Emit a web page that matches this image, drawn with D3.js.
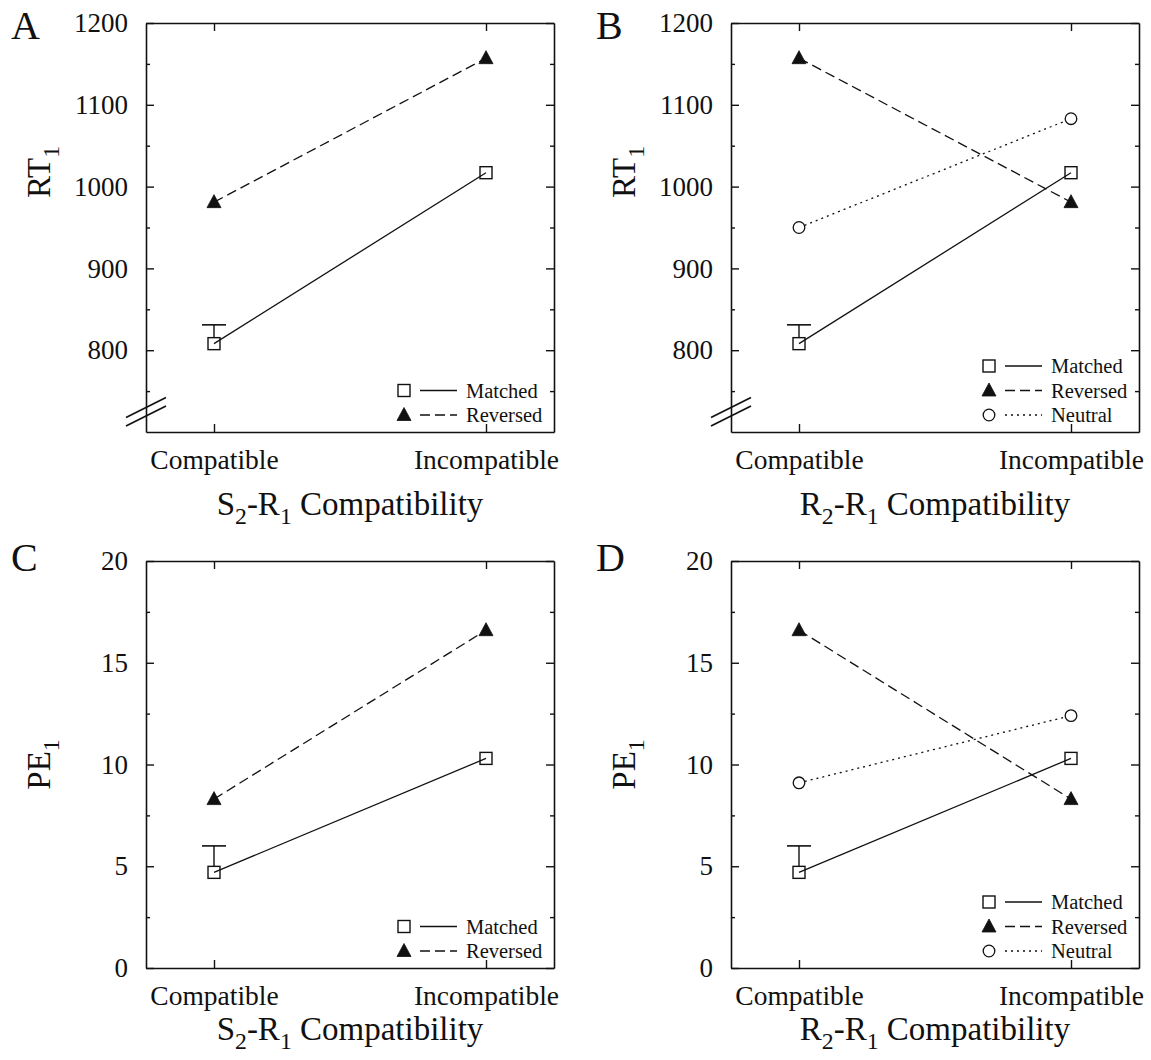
<!DOCTYPE html>
<html><head><meta charset="utf-8">
<script src="https://cdn.jsdelivr.net/npm/d3@7"></script>
<style>
body{margin:0;background:#fff;}
svg{display:block;}
svg text{font-family:"Liberation Serif","Times New Roman",serif !important;}
</style></head>
<body>
<svg id="chart" width="1151" height="1060"></svg>
<script>
// ---------- data ----------
const categories = ["Compatible", "Incompatible"];
const rtMatched = [808, 1017];
const rtReversedA = [981, 1157];
const rtReversedB = [1157, 981];
const rtNeutral = [950, 1083];
const rtMatchedErrUpper = [831, null];
const peMatched = [4.7, 10.3];
const peReversedC = [8.3, 16.6];
const peReversedD = [16.6, 8.3];
const peNeutral = [9.1, 12.4];
const peMatchedErrUpper = [6.0, null];
const rtTicks = [800, 900, 1000, 1100, 1200];
const rtMinorTicks = [750, 850, 950, 1050, 1150];
const peTicks = [0, 5, 10, 15, 20];
const peMinorTicks = [2.5, 7.5, 12.5, 17.5];

const svg = d3.select("#chart");

const panels = [
  {letter:"A", left:146, top:23, w:408, h:409, domain:[700,1200], ticks:rtTicks, minor:rtMinorTicks,
   ytitle:["RT","1"], ytitleY:172, xtitle:["S","2","-R","1"," Compatibility"], brk:true, titleOff:83, letterY:39,
   series:[{name:"Matched", vals:rtMatched, sym:"square", dash:null, err:rtMatchedErrUpper},
           {name:"Reversed", vals:rtReversedA, sym:"triangle", dash:"10,5"}]},
  {letter:"B", left:731, top:23, w:408, h:409, domain:[700,1200], ticks:rtTicks, minor:rtMinorTicks,
   ytitle:["RT","1"], ytitleY:172, xtitle:["R","2","-R","1"," Compatibility"], brk:true, titleOff:83, letterY:39,
   series:[{name:"Matched", vals:rtMatched, sym:"square", dash:null, err:rtMatchedErrUpper},
           {name:"Reversed", vals:rtReversedB, sym:"triangle", dash:"10,5"},
           {name:"Neutral", vals:rtNeutral, sym:"circle", dash:"2,4"}]},
  {letter:"C", left:146, top:561, w:408, h:407, domain:[0,20], ticks:peTicks, minor:peMinorTicks,
   ytitle:["PE","1"], ytitleY:null, xtitle:["S","2","-R","1"," Compatibility"], brk:false, titleOff:72, letterY:571,
   series:[{name:"Matched", vals:peMatched, sym:"square", dash:null, err:peMatchedErrUpper},
           {name:"Reversed", vals:peReversedC, sym:"triangle", dash:"10,5"}]},
  {letter:"D", left:731, top:561, w:408, h:407, domain:[0,20], ticks:peTicks, minor:peMinorTicks,
   ytitle:["PE","1"], ytitleY:null, xtitle:["R","2","-R","1"," Compatibility"], brk:false, titleOff:72, letterY:571,
   series:[{name:"Matched", vals:peMatched, sym:"square", dash:null, err:peMatchedErrUpper},
           {name:"Reversed", vals:peReversedD, sym:"triangle", dash:"10,5"},
           {name:"Neutral", vals:peNeutral, sym:"circle", dash:"2,4"}]}
];

function drawSymbol(g, sym, cx, cy){
  if(sym==="square"){
    g.append("rect").attr("x",cx-6).attr("y",cy-6).attr("width",12).attr("height",12)
      .attr("fill","none").attr("stroke","#111").attr("stroke-width",1.4);
  } else if(sym==="triangle"){
    g.append("path").attr("d",`M${cx},${cy-7.5}L${cx+7},${cy+5.5}L${cx-7},${cy+5.5}Z`)
      .attr("fill","#111").attr("stroke","#111").attr("stroke-width",0.8);
  } else {
    g.append("circle").attr("cx",cx).attr("cy",cy).attr("r",5.8)
      .attr("fill","#fff").attr("stroke","#111").attr("stroke-width",1.3);
  }
}

function subText(sel, parts, size){
  parts.forEach((p,i)=>{
    const isSub = (i%2===1);
    const t = sel.append("tspan").text(p);
    if(isSub){ t.attr("font-size", size*0.72).attr("dy", size*0.28); }
    else if(i>0){ t.attr("dy", -size*0.28); }
  });
}

panels.forEach(p=>{
  const g = svg.append("g").attr("transform",`translate(${p.left},${p.top})`);
  const x = d3.scaleLinear().domain([-0.25,1.25]).range([0,p.w]);
  const y = d3.scaleLinear().domain(p.domain).range([p.h,0]);
  const fmtTick = d3.format("d");

  const axStyle = a => {
    a.selectAll("path.domain").attr("stroke","#111").attr("stroke-width",1.6);
    a.selectAll(".tick line").attr("stroke","#111").attr("stroke-width",1.4);
    a.selectAll("text").attr("fill","#111");
  };
  const gl = g.append("g").call(d3.axisLeft(y).tickValues(p.ticks).tickFormat(fmtTick)
      .tickSizeInner(-8).tickSizeOuter(0).tickPadding(18));
  axStyle(gl); gl.selectAll("text").attr("font-size",27);
  const glm = g.append("g").call(d3.axisLeft(y).tickValues(p.minor).tickFormat("")
      .tickSizeInner(-4).tickSizeOuter(0));
  axStyle(glm); glm.select("path.domain").remove();
  const gr = g.append("g").attr("transform",`translate(${p.w},0)`)
      .call(d3.axisRight(y).tickValues(p.ticks).tickFormat("").tickSizeInner(-8).tickSizeOuter(0));
  axStyle(gr);
  const grm = g.append("g").attr("transform",`translate(${p.w},0)`)
      .call(d3.axisRight(y).tickValues(p.minor).tickFormat("").tickSizeInner(-4).tickSizeOuter(0));
  axStyle(grm); grm.select("path.domain").remove();
  const gb = g.append("g").attr("transform",`translate(0,${p.h})`)
      .call(d3.axisBottom(x).tickValues([0,1]).tickFormat(i=>categories[i])
      .tickSizeInner(-8).tickSizeOuter(0).tickPadding(17));
  axStyle(gb); gb.selectAll("text").attr("font-size",27.5);
  const gt = g.append("g")
      .call(d3.axisTop(x).tickValues([0,1]).tickFormat("").tickSizeInner(-8).tickSizeOuter(0));
  axStyle(gt);

  if(p.brk){
    [p.h-24.5, p.h-16].forEach(cy=>{
      g.append("line").attr("x1",-20).attr("y1",cy+10).attr("x2",20).attr("y2",cy-10)
        .attr("stroke","#111").attr("stroke-width",1.6);
    });
  }

  const line = d3.line().x((d,i)=>x(i)).y(d=>y(d));
  p.series.forEach(s=>{
    g.append("path").attr("d", line(s.vals)).attr("fill","none").attr("stroke","#111")
      .attr("stroke-width",1.3).attr("stroke-dasharray", s.dash);
  });
  p.series.forEach(s=>{
    if(!s.err) return;
    s.err.forEach((u,i)=>{
      if(u==null) return;
      g.append("line").attr("x1",x(i)).attr("x2",x(i)).attr("y1",y(s.vals[i])-6).attr("y2",y(u))
        .attr("stroke","#111").attr("stroke-width",1.4);
      g.append("line").attr("x1",x(i)-12).attr("x2",x(i)+12).attr("y1",y(u)).attr("y2",y(u))
        .attr("stroke","#111").attr("stroke-width",1.6);
    });
  });
  p.series.forEach(s=>{
    s.vals.forEach((v,i)=>drawSymbol(g, s.sym, x(i), y(v)));
  });

  const n = p.series.length;
  p.series.forEach((s,k)=>{
    const cy = p.h - 17 - (n-1-k)*24.5;
    const lg = g.append("g");
    drawSymbol(lg, s.sym, p.w-150, cy);
    lg.append("line").attr("x1",p.w-134).attr("x2",p.w-97).attr("y1",cy).attr("y2",cy)
      .attr("stroke","#111").attr("stroke-width",1.3).attr("stroke-dasharray",s.dash);
    lg.append("text").attr("x",p.w-88).attr("y",cy).attr("dy","0.35em")
      .attr("font-size",20.5).attr("fill","#111").text(s.name);
  });

  const xt = g.append("text").attr("x",p.w/2).attr("y",p.h+p.titleOff)
      .attr("text-anchor","middle").attr("font-size",33).attr("fill","#111");
  subText(xt, p.xtitle, 33);

  const yc = p.ytitleY!=null ? p.ytitleY - p.top : p.h/2;
  const yt = g.append("text").attr("transform",`translate(${-146+50},${yc}) rotate(-90)`)
      .attr("text-anchor","middle").attr("font-size",33).attr("fill","#111");
  subText(yt, p.ytitle, 33);

  svg.append("text").attr("x", p.left-135).attr("y", p.letterY).attr("font-size",40)
    .attr("fill","#111").text(p.letter);
});
</script>
</body></html>
